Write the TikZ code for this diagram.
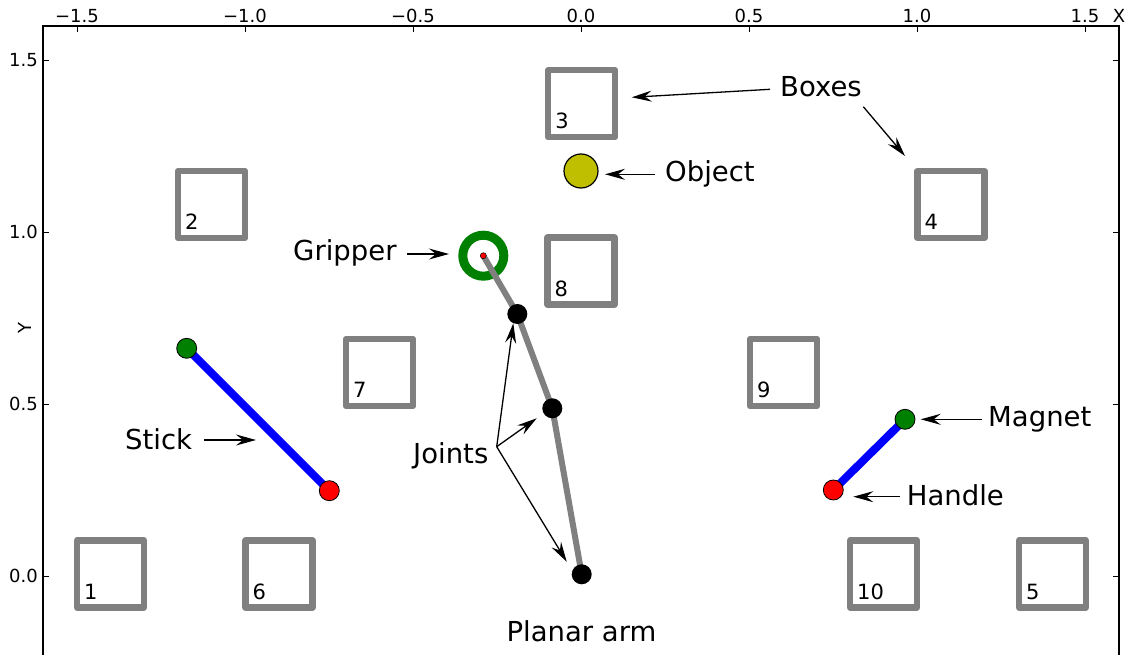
\documentclass[tikz,border=0pt]{standalone}
\usepackage{fontspec}
\setmainfont{DejaVu Sans}
\usetikzlibrary{arrows.meta}
\pgfdeclarelayer{back}
\pgfdeclarelayer{bg}
\pgfdeclarelayer{mid}
\pgfsetlayers{back,bg,mid,main}
\definecolor{mgreen}{RGB}{0,128,0}
\definecolor{mgray}{RGB}{128,128,128}
\definecolor{mblue}{RGB}{0,0,255}
\definecolor{mred}{RGB}{255,0,0}
\definecolor{molive}{RGB}{191,191,0}
\begin{document}
\begin{tikzpicture}[x=1pt,y=-1pt,
  boxsq/.style={draw=mgray, line width=6.5pt, line join=round, minimum size=67pt, inner sep=0pt, outer sep=0pt},
  boxlab/.style={font=\fontsize{21}{21}\selectfont, inner sep=0pt, anchor=base west},
  ticklab/.style={font=\fontsize{18}{18}\selectfont, inner sep=0pt},
  ann/.style={font=\fontsize{27.5}{27.5}\selectfont, inner sep=0pt, anchor=base west},
  annarrow/.style={draw=black, line width=1.3pt, -{Stealth[length=20pt, width=11pt, inset=7pt]}},
  joint/.style={circle, fill=black, minimum size=20pt, inner sep=0pt},
  endg/.style={circle, fill=mgreen, draw=black, line width=0.8pt, minimum size=20pt, inner sep=0pt},
  endr/.style={circle, fill=mred, draw=black, line width=0.8pt, minimum size=20pt, inner sep=0pt},
  stickline/.style={draw=mblue, line width=8pt},
  armline/.style={draw=mgray, line width=6pt, line join=round}
]
\useasboundingbox (0,0) rectangle (1132,655);
\begin{pgfonlayer}{back}
  \fill[white] (0,0) rectangle (1132,655);
\end{pgfonlayer}

% frame
\draw[line width=1.3pt] (43,26) rectangle (1119,655.5);

% x ticks (top)
\foreach \v/\x in {−1.5/77, −1.0/245, −0.5/413, 0.0/581, 0.5/749, 1.0/917, 1.5/1085} {
  \draw[line width=1pt] (\x,26) -- (\x,32);
  \node[ticklab, anchor=base] (xt\x) at (\x,23) {\v};
}
% y ticks (left and right)
\foreach \v/\y in {1.5/61, 1.0/232.9, 0.5/404.8, 0.0/576.7} {
  \draw[line width=1pt] (43,\y) -- (49,\y);
  \draw[line width=1pt] (1119,\y) -- (1113,\y);
  \node[ticklab, anchor=base east] (yt\v) at (38,\y+5.3) {\v};
}
\node[ticklab, anchor=base] (xlabel) at (1119,23) {X};
\node[ticklab, rotate=90] (ylabel) at (25,328) {Y};

% boxes
\foreach \n/\x/\y in {1/110.5/574, 2/211.5/204.5, 3/581.7/103.7, 4/951/204.5, 5/1052.5/574,
                      6/279/574, 7/379.5/372.5, 8/581/271, 9/783.5/372.5, 10/883.5/574} {
  \node[boxsq] (box\n) at (\x,\y) {};
  \node[boxlab] (lab\n) at (\x-26.5,\y+25) {\n};
}

% object
\node[circle, fill=molive, draw=black, line width=1.2pt, minimum size=34pt, inner sep=0pt] (obj) at (581,171) {};

% stick and magnet
\node[endg] (sg) at (186.7,348.3) {};
\node[endr] (sr) at (329.3,490.7) {};
\node[endg] (mg) at (905,419.3) {};
\node[endr] (mr) at (833.3,490) {};
\begin{pgfonlayer}{mid}
  \draw[stickline] (sg.center) -- (sr.center);
  \draw[stickline] (mg.center) -- (mr.center);
\end{pgfonlayer}

% planar arm
\begin{pgfonlayer}{bg}
  \node[circle, draw=mgreen, line width=9pt, minimum size=41pt, inner sep=0pt] (grip) at (483.3,255.7) {};
\end{pgfonlayer}
\node[circle, fill=mred, draw=black, line width=0.5pt, minimum size=6pt, inner sep=0pt] (tip) at (483.3,255.7) {};
\node[joint] (j1) at (517.3,314) {};
\node[joint] (j2) at (552.3,408.3) {};
\node[joint] (j0) at (581.7,574.3) {};
\begin{pgfonlayer}{mid}
  \draw[armline] (tip.center) -- (j1.center) -- (j2.center) -- (j0.center);
\end{pgfonlayer}

% annotations
\node[ann] (tBoxes) at (780,96.7) {Boxes};
\coordinate (aB1s) at (770,89.3);
\coordinate (aB1e) at (631.7,97.3);
\coordinate (aB2s) at (863.3,106.7);
\coordinate (aB2e) at (905,156);
\draw[annarrow] (aB1s) -- (aB1e);
\draw[annarrow] (aB2s) -- (aB2e);

\node[ann] (tObject) at (665,182) {Object};
\coordinate (aOs) at (655,174.3);
\coordinate (aOe) at (605,174.3);
\draw[annarrow] (aOs) -- (aOe);

\node[ann] (tGripper) at (293,260) {Gripper};
\coordinate (aGs) at (406.7,254);
\coordinate (aGe) at (449,254);
\draw[annarrow] (aGs) -- (aGe);

\node[ann] (tJoints) at (413,463.3) {Joints};
\coordinate (aJs) at (496.7,446.7);
\coordinate (aJ1e) at (513.3,323.3);
\coordinate (aJ2e) at (536.7,418.3);
\coordinate (aJ3e) at (566.7,561.7);
\draw[annarrow] (aJs) -- (aJ1e);
\draw[annarrow] (aJs) -- (aJ2e);
\draw[annarrow] (aJs) -- (aJ3e);

\node[ann] (tStick) at (125,449.3) {Stick};
\coordinate (aSs) at (204,440);
\coordinate (aSe) at (256,440);
\draw[annarrow] (aSs) -- (aSe);

\node[ann] (tMagnet) at (988,426.7) {Magnet};
\coordinate (aMs) at (981.7,419.3);
\coordinate (aMe) at (920.7,419.3);
\draw[annarrow] (aMs) -- (aMe);

\node[ann] (tHandle) at (906.7,505) {Handle};
\coordinate (aHs) at (900,496.7);
\coordinate (aHe) at (853.3,496.7);
\draw[annarrow] (aHs) -- (aHe);

\node[ann, anchor=base] (tArm) at (581.5,641) {Planar arm};
\end{tikzpicture}
\end{document}
